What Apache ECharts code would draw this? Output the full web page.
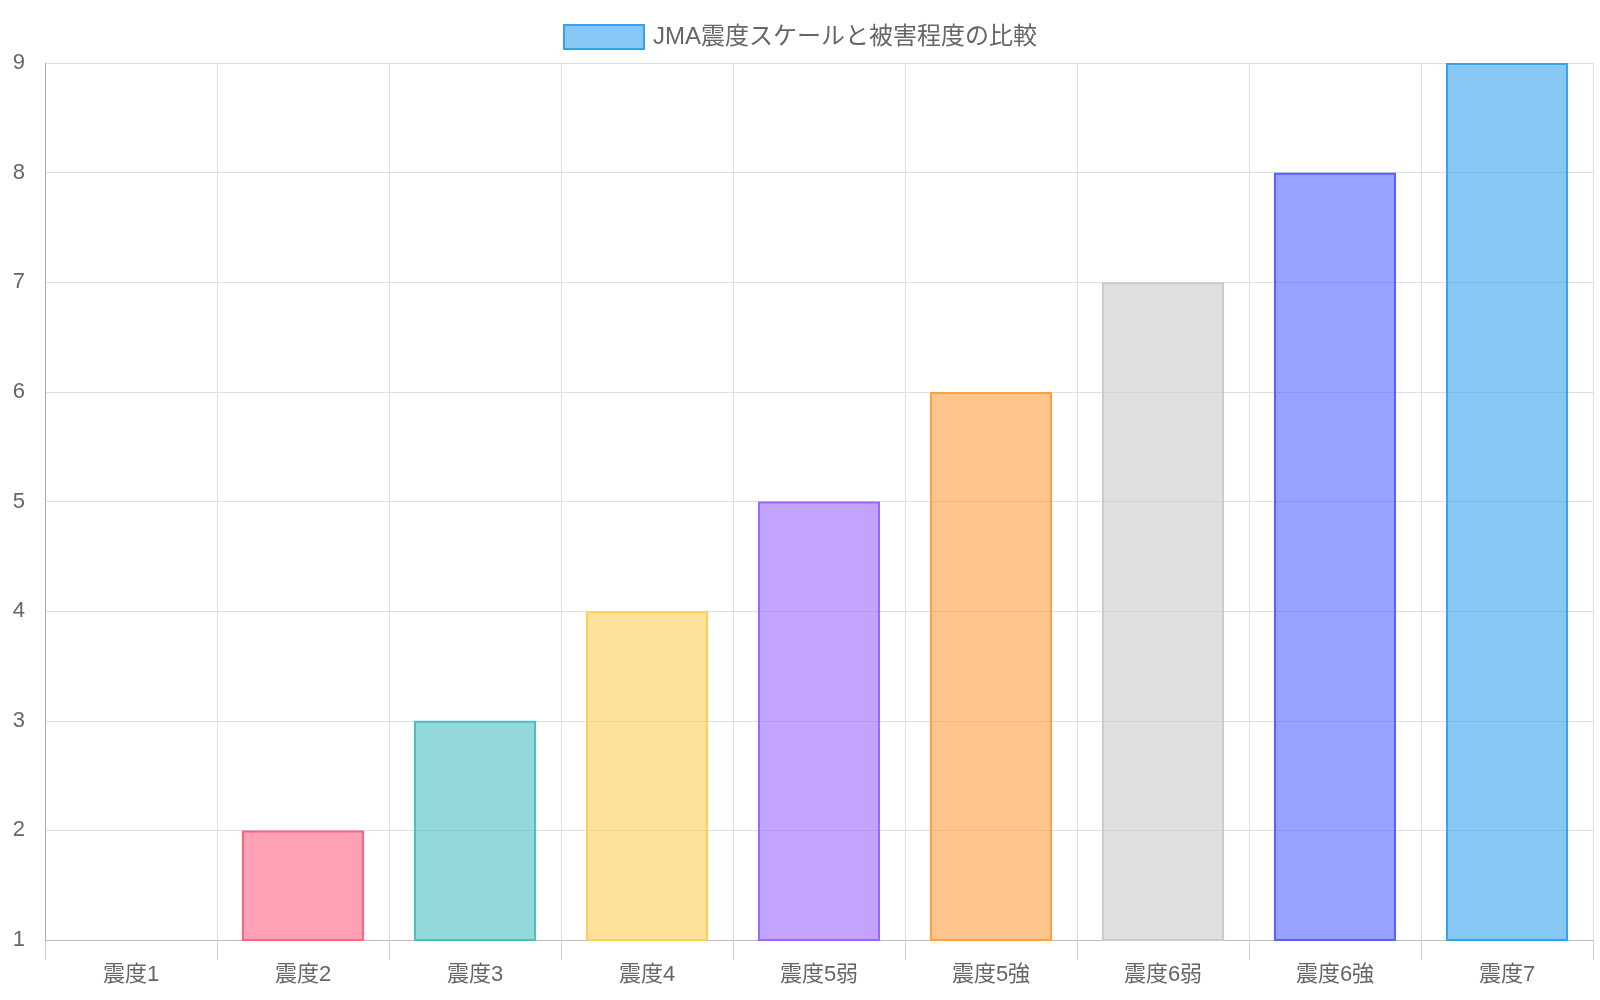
<!DOCTYPE html>
<html lang="ja">
<head>
  <meta charset="UTF-8">
  <title>JMA震度スケールと被害程度の比較</title>
  <script src="https://cdn.jsdelivr.net/npm/echarts@6/dist/echarts.min.js"></script>
  <style>
    html, body { margin: 0; padding: 0; background: #fff; }
    #chart { width: 1600px; height: 1000px; }
  </style>
</head>
<body>
  <div id="chart"></div>
  <script>
    const categories = ['震度1', '震度2', '震度3', '震度4', '震度5弱', '震度5強', '震度6弱', '震度6強', '震度7'];
    const damageLevels = [1, 2, 3, 4, 5, 6, 7, 8, 9];
    const fillColors = [
      'rgba(54,162,235,0.6)', 'rgba(255,99,132,0.6)', 'rgba(75,192,192,0.6)',
      'rgba(255,206,86,0.6)', 'rgba(153,102,255,0.6)', 'rgba(255,159,64,0.6)',
      'rgba(201,203,207,0.6)', 'rgba(84,98,255,0.6)', 'rgba(54,162,235,0.6)'
    ];
    const borderColors = [
      'rgb(54,162,235)', 'rgb(255,99,132)', 'rgb(75,192,192)',
      'rgb(255,206,86)', 'rgb(153,102,255)', 'rgb(255,159,64)',
      'rgb(201,203,207)', 'rgb(84,98,255)', 'rgb(54,162,235)'
    ];
    const seriesName = 'JMA震度スケールと被害程度の比較';
    const font = 'Liberation Sans, Noto Sans CJK JP, sans-serif';

    const myChart = echarts.init(document.getElementById('chart'));
    myChart.setOption({
      animation: false,
      textStyle: { fontFamily: font },
      legend: {
        top: 19,
        left: 'center',
        itemWidth: 80,
        itemHeight: 24,
        itemGap: 10,
        icon: 'rect',
        itemStyle: { color: 'rgba(54,162,235,0.6)', borderColor: 'rgb(54,162,235)', borderWidth: 2 },
        textStyle: { fontSize: 24, color: '#666', fontFamily: font, padding: [0, 0, 0, 4] },
        data: [seriesName]
      },
      grid: { left: 45, right: 7, top: 63, bottom: 60 },
      xAxis: {
        type: 'category',
        data: categories,
        axisLine: { lineStyle: { color: '#bbb' } },
        axisTick: { show: true, length: 20, lineStyle: { color: '#ccc' } },
        axisLabel: { fontSize: 22, color: '#666', margin: 24 },
        splitLine: { show: true, lineStyle: { color: '#e0e0e0' } }
      },
      yAxis: {
        type: 'value',
        min: 1,
        max: 9,
        interval: 1,
        axisLine: { show: true, lineStyle: { color: '#aaa' } },
        axisTick: { show: false },
        axisLabel: { fontSize: 22, color: '#666', margin: 20 },
        splitLine: { lineStyle: { color: '#e0e0e0' } }
      },
      series: [{
        name: seriesName,
        type: 'bar',
        barCategoryGap: '29%',
        data: damageLevels.map((v, i) => ({
          value: v,
          itemStyle: { color: fillColors[i], borderColor: borderColors[i], borderWidth: 2 }
        }))
      }]
    });
  </script>
</body>
</html>
